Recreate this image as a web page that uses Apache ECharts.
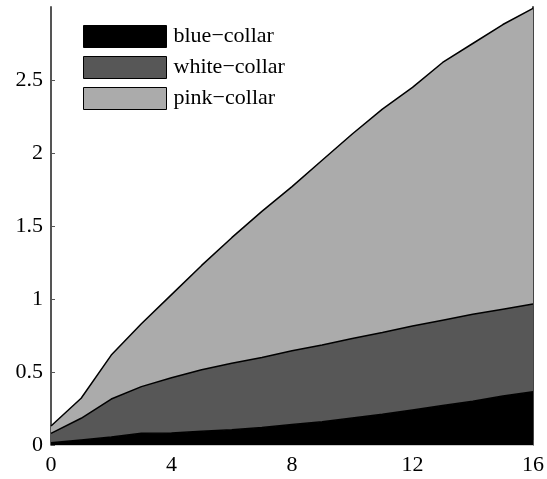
<!DOCTYPE html>
<html>
<head>
<meta charset="utf-8">
<script src="https://cdn.jsdelivr.net/npm/echarts@6/dist/echarts.min.js"></script>
<style>
  html, body { margin: 0; padding: 0; background: #fff; }
  #chart { width: 547px; height: 479px; }
</style>
</head>
<body>
<div id="chart"></div>
<script>
const xLabels = ['0','1','2','3','4','5','6','7','8','9','10','11','12','13','14','15','16'];
const blueCollar  = [0.015, 0.035, 0.055, 0.08, 0.083, 0.095, 0.105, 0.12, 0.14, 0.16, 0.185, 0.21, 0.24, 0.27, 0.30, 0.335, 0.365];
const whiteCollar = [0.065, 0.148, 0.26, 0.32, 0.377, 0.42, 0.455, 0.48, 0.505, 0.525, 0.545, 0.56, 0.575, 0.585, 0.595, 0.595, 0.60];
const pinkCollar  = [0.05, 0.137, 0.301, 0.43, 0.57, 0.715, 0.86, 1.00, 1.125, 1.265, 1.40, 1.53, 1.635, 1.765, 1.855, 1.95, 2.025];
const yTicks = [0, 0.5, 1, 1.5, 2, 2.5];

const font = '"Liberation Serif", "DejaVu Serif", serif';
const chart = echarts.init(document.getElementById('chart'));

function areaSeries(name, data, fill) {
    return {
        name: name,
        type: 'line',
        stack: 'total',
        data: data,
        symbol: 'none',
        color: fill,
        lineStyle: { color: '#000', width: 1.5 },
        areaStyle: { color: fill, opacity: 1 },
        emphasis: { disabled: true }
    };
}

chart.setOption({
    animation: false,
    textStyle: { fontFamily: font },
    grid: { left: 51, right: 14, top: 7, bottom: 34 },
    legend: {
        orient: 'vertical',
        left: 83,
        top: 25,
        padding: 0,
        icon: 'rect',
        itemWidth: 83,
        itemHeight: 22,
        itemGap: 8,
        itemStyle: { borderColor: '#000', borderWidth: 1 },
        textStyle: { fontFamily: font, fontSize: 22, color: '#000', padding: [0, 0, 0, 2] },
        data: ['blue\u2212collar', 'white\u2212collar', 'pink\u2212collar']
    },
    xAxis: {
        type: 'category',
        boundaryGap: false,
        data: xLabels,
        axisLine: { show: true, lineStyle: { color: '#ccc', width: 1 } },
        axisTick: { show: true, inside: true, interval: 3, length: 5, lineStyle: { color: '#555' } },
        axisLabel: { interval: 3, color: '#000', fontFamily: font, fontSize: 22, margin: 9 },
        splitLine: { show: false }
    },
    yAxis: [{
        type: 'value',
        min: 0,
        max: 3,
        interval: 0.5,
        axisLine: { show: true, lineStyle: { color: '#555', width: 2 } },
        axisTick: { show: true, inside: true, length: 4, customValues: yTicks, lineStyle: { color: '#555' } },
        axisLabel: { color: '#000', fontFamily: font, fontSize: 22, margin: 8, customValues: yTicks },
        splitLine: { show: false }
    }, {
        type: 'value',
        position: 'right',
        min: 0,
        max: 3,
        axisLine: { show: true, lineStyle: { color: '#444', width: 2 } },
        axisTick: { show: false },
        axisLabel: { show: false },
        splitLine: { show: false }
    }],
    series: [
        areaSeries('blue\u2212collar', blueCollar, '#000000'),
        areaSeries('white\u2212collar', whiteCollar, '#575757'),
        areaSeries('pink\u2212collar', pinkCollar, '#ababab')
    ]
});
</script>
</body>
</html>
